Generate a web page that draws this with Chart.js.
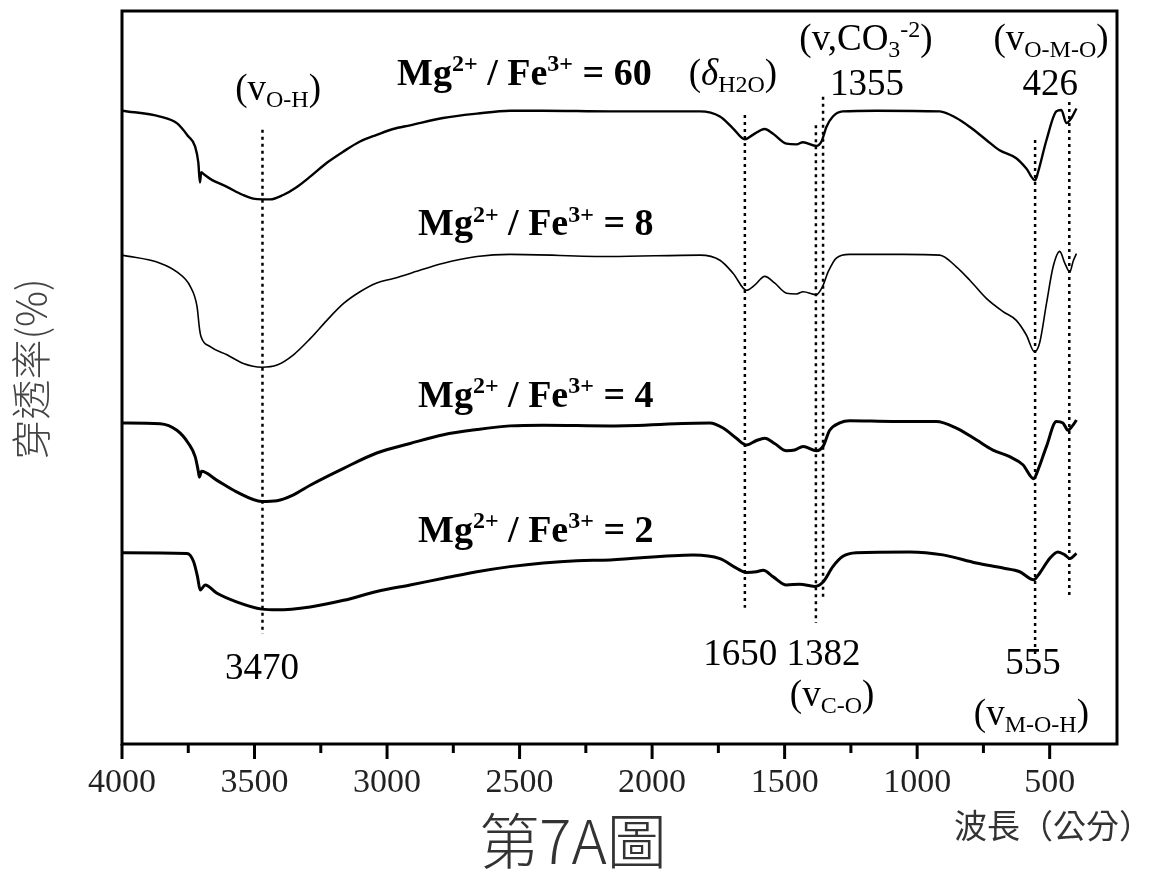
<!DOCTYPE html>
<html>
<head>
<meta charset="utf-8">
<title>第7A圖</title>
<script src="https://cdn.jsdelivr.net/npm/chart.js@4.4.1/dist/chart.umd.min.js"></script>
<style>
  html, body { margin: 0; padding: 0; background: #fff; }
  #wrap { width: 1159px; height: 874px; position: relative; }
</style>
</head>
<body>
<div id="wrap"><canvas id="ftir"></canvas></div>
<script>
// FTIR spectra, Mg/Fe ratio series (stacked with offsets, as in the figure)
// x = wavenumber (cm-1), y = transmittance (arb. %)

const wn60 = [4000, 3856, 3793, 3750, 3724, 3712, 3706, 3701, 3690, 3667, 3604, 3543, 3505, 3470, 3441, 3392, 3340, 3290, 3227, 3166, 3102, 3039, 2977, 2913, 2789, 2661, 2536, 2412, 2158, 1819, 1744, 1695, 1650, 1620, 1575, 1545, 1493, 1455, 1431, 1380, 1361, 1342, 1318, 1281, 1153, 915, 852, 802, 739, 689, 626, 588, 555, 544, 512, 475, 456, 437, 418, 399];
const t60  = [86.4, 85.6, 84.7, 82.9, 81.5, 79.3, 76.6, 78.0, 77.7, 77.1, 76.0, 74.9, 74.4, 74.3, 74.3, 74.9, 76.0, 77.4, 79.3, 80.8, 82.2, 83.1, 83.9, 84.4, 85.4, 86.0, 86.4, 86.4, 86.3, 86.3, 85.6, 84.0, 82.5, 83.1, 83.9, 83.3, 81.9, 81.8, 82.1, 81.6, 82.2, 84.2, 85.6, 86.3, 86.4, 86.3, 85.4, 84.2, 82.4, 81.0, 79.9, 78.5, 76.9, 78.0, 82.4, 86.3, 86.5, 84.7, 85.4, 86.7];

const wn8 = [4000, 3856, 3793, 3742, 3717, 3707, 3702, 3667, 3604, 3542, 3472, 3415, 3353, 3290, 3227, 3164, 3102, 3039, 2976, 2913, 2787, 2661, 2536, 2158, 1819, 1744, 1694, 1644, 1613, 1575, 1538, 1493, 1455, 1430, 1380, 1357, 1336, 1305, 1255, 1054, 915, 852, 802, 739, 676, 626, 588, 557, 538, 512, 487, 462, 443, 424, 412, 399];
const t8  = [66.7, 65.6, 64.4, 62.4, 59.7, 56.5, 55.6, 54.2, 53.1, 51.9, 51.4, 51.7, 53.1, 55.3, 57.8, 60.1, 61.7, 62.9, 63.5, 64.2, 65.6, 66.5, 66.8, 66.5, 66.7, 66.0, 64.2, 61.9, 62.6, 63.8, 62.9, 61.5, 61.4, 61.7, 61.3, 62.4, 64.4, 66.3, 66.8, 66.8, 66.7, 65.1, 63.3, 60.8, 59.0, 57.8, 55.8, 53.5, 54.7, 60.1, 65.1, 67.2, 65.6, 64.4, 65.8, 66.9];

const wn4 = [4000, 3856, 3793, 3749, 3724, 3712, 3708, 3700, 3643, 3568, 3472, 3415, 3353, 3290, 3164, 3039, 2913, 2787, 2661, 2536, 2410, 2158, 1782, 1732, 1682, 1644, 1606, 1575, 1538, 1493, 1462, 1430, 1380, 1355, 1330, 1292, 1255, 1091, 928, 852, 777, 714, 651, 601, 560, 544, 512, 475, 450, 431, 412, 399];
const t4  = [43.8, 43.7, 42.8, 41.0, 39.2, 37.2, 36.4, 37.2, 36.0, 34.4, 33.1, 33.2, 34.0, 35.3, 37.6, 39.7, 41.0, 42.2, 42.9, 43.4, 43.5, 43.4, 43.8, 43.1, 41.7, 40.8, 41.4, 41.7, 41.0, 40.0, 40.1, 40.6, 40.0, 40.6, 42.8, 43.8, 44.1, 44.0, 44.0, 43.1, 41.5, 40.1, 39.2, 38.1, 36.2, 37.4, 40.6, 44.0, 43.8, 42.8, 43.5, 44.2];

const wn2 = [4000, 3755, 3730, 3715, 3705, 3686, 3643, 3568, 3472, 3415, 3290, 3164, 3039, 2913, 2787, 2661, 2536, 2410, 2284, 2158, 1845, 1744, 1682, 1644, 1606, 1581, 1543, 1493, 1443, 1387, 1355, 1318, 1280, 1230, 1029, 903, 777, 676, 613, 560, 538, 500, 469, 443, 424, 399];
const t2  = [26.1, 26.0, 24.9, 22.8, 21.0, 21.7, 20.6, 19.4, 18.4, 18.3, 18.7, 19.6, 20.8, 21.7, 22.6, 23.5, 24.2, 24.7, 25.0, 25.1, 25.8, 25.3, 24.0, 23.4, 23.5, 23.7, 22.8, 21.7, 21.8, 21.5, 22.1, 24.2, 25.6, 26.1, 26.2, 25.8, 24.7, 24.0, 23.5, 22.4, 23.3, 25.3, 26.2, 25.8, 25.3, 26.0];

// assigned bands: dotted guide lines, top / bottom in transmittance units
const peakWn  = [3470, 1650, 1382, 1355, 555, 426];
const peakTop = [83.8, 85.8, 84.4, 88.3, 82.4, 87.6];
const peakBot = [15.0, 18.6, 16.5, 19.6, 12.1, 20.3];

const xTicks = [4000, 3500, 3000, 2500, 2000, 1500, 1000, 500];

const SERIF = '"Liberation Serif", "Times New Roman", serif';
const CJK = '"Noto Sans CJK TC", "Noto Sans CJK SC", sans-serif';

const mg = n => [['Mg', ''], ['2+', 'sup'], [' / Fe', ''], ['3+', 'sup'], [' = ' + n, '']];

// text labels placed in data coordinates [wavenumber, transmittance]
const notes = [
  { at: [3411, 87.9], parts: [['(v', ''], ['O-H', 'sub'], [')', '']] },
  { at: [2962, 89.9], left: true, bold: true, parts: mg('60') },
  { at: [2883, 69.4], left: true, bold: true, parts: mg('8') },
  { at: [2883, 46.0], left: true, bold: true, parts: mg('4') },
  { at: [2883, 27.6], left: true, bold: true, parts: mg('2') },
  { at: [1695, 89.9], parts: [['(', ''], ['δ', 'i'], ['H2O', 'sub'], [')', '']] },
  { at: [1193, 94.7], parts: [['(v,CO', ''], ['3', 'sub'], ['-2', 'sup'], [')', '']] },
  { at: [1189, 88.5], parts: [['1355', '']] },
  { at: [495, 94.7], parts: [['(v', ''], ['O-M-O', 'sub'], [')', '']] },
  { at: [498, 88.5], parts: [['426', '']] },
  { at: [3472, 8.8], parts: [['3470', '']] },
  { at: [1510, 10.8], parts: [['1650 1382', '']] },
  { at: [1321, 5.2], parts: [['(v', ''], ['C-O', 'sub'], [')', '']] },
  { at: [563, 9.5], parts: [['555', '']] },
  { at: [569, 2.6], parts: [['(v', ''], ['M-O-H', 'sub'], [')', '']] }
];

function drawRich(ctx, parts, x, y, size, bold, left) {
  const small = Math.round(size * 0.64);
  const weight = bold ? 'bold ' : '';
  const fontFor = k => {
    const s = (k === 'sub' || k === 'sup') ? small : size;
    return (k === 'i' ? 'italic ' : '') + weight + s + 'px ' + SERIF;
  };
  let total = 0;
  parts.forEach(([t, k]) => { ctx.font = fontFor(k); total += ctx.measureText(t).width; });
  let cx = left ? x : x - total / 2;
  parts.forEach(([t, k]) => {
    ctx.font = fontFor(k);
    const dy = k === 'sub' ? size * 0.2 : k === 'sup' ? -size * 0.36 : 0;
    ctx.fillText(t, cx, y + dy);
    cx += ctx.measureText(t).width;
  });
}

const decor = {
  id: 'decor',
  afterDatasetsDraw(chart) {
    const { ctx, chartArea: a, scales: { x, y } } = chart;
    ctx.save();
    // frame + tick marks
    ctx.strokeStyle = '#000';
    ctx.lineWidth = 3;
    ctx.strokeRect(a.left, a.top, a.right - a.left, a.bottom - a.top);
    for (let v = 500; v <= 4000; v += 250) {
      const px = x.getPixelForValue(v);
      const len = v % 500 === 0 ? 15 : 9;
      ctx.beginPath();
      ctx.moveTo(px, a.bottom);
      ctx.lineTo(px, a.bottom + len);
      ctx.stroke();
    }
    // band labels
    ctx.fillStyle = '#000';
    ctx.textBaseline = 'alphabetic';
    notes.forEach(n => {
      drawRich(ctx, n.parts, x.getPixelForValue(n.at[0]), y.getPixelForValue(n.at[1]),
        n.bold ? 38 : 37, n.bold, n.left);
    });
    // axis titles and figure caption
    ctx.fillStyle = '#333';
    ctx.font = '33px ' + CJK;
    ctx.textAlign = 'right';
    ctx.fillText('波長（公分）', 1152, 838);
    ctx.font = '300 60px ' + CJK;
    ctx.textAlign = 'center';
    ctx.fillText('第7A圖', 573, 864);
    ctx.translate(31, 369);
    ctx.rotate(-Math.PI / 2);
    ctx.fillStyle = '#444';
    ctx.font = '300 40px ' + CJK;
    ctx.textBaseline = 'middle';
    ctx.fillText('穿透率(%)', 0, 0);
    ctx.restore();
  }
};

const spectrum = (wn, t, w) => ({
  data: wn.map((v, i) => ({ x: v, y: t[i] })),
  borderColor: '#000',
  borderWidth: w,
  pointRadius: 0,
  cubicInterpolationMode: 'monotone',
  fill: false
});

const guides = peakWn.map((p, i) => ({
  data: [{ x: p, y: peakTop[i] }, { x: p, y: peakBot[i] }],
  borderColor: '#000',
  borderWidth: 2.5,
  borderDash: [3, 4],
  pointRadius: 0,
  fill: false
}));

new Chart(document.getElementById('ftir'), {
  type: 'line',
  data: {
    datasets: [
      spectrum(wn60, t60, 2.4),
      spectrum(wn8, t8, 1.6),
      spectrum(wn4, t4, 3),
      spectrum(wn2, t2, 3),
      ...guides
    ]
  },
  options: {
    responsive: true,
    maintainAspectRatio: false,
    animation: false,
    layout: { padding: { left: 122, right: 42, top: 11, bottom: 0 } },
    plugins: { legend: { display: false }, tooltip: { enabled: false } },
    scales: {
      x: {
        type: 'linear',
        reverse: true,
        min: 246,
        max: 4000,
        grid: { display: false, tickLength: 15 },
        border: { display: false },
        afterBuildTicks: s => { s.ticks = xTicks.map(v => ({ value: v })); },
        afterFit: s => { s.height = 130; },
        ticks: {
          autoSkip: false,
          maxRotation: 0,
          padding: 4,
          color: '#222',
          font: { family: SERIF, size: 34 },
          callback: v => String(v)
        }
      },
      y: { display: false, min: 0, max: 100 }
    }
  },
  plugins: [decor]
});
</script>
</body>
</html>
